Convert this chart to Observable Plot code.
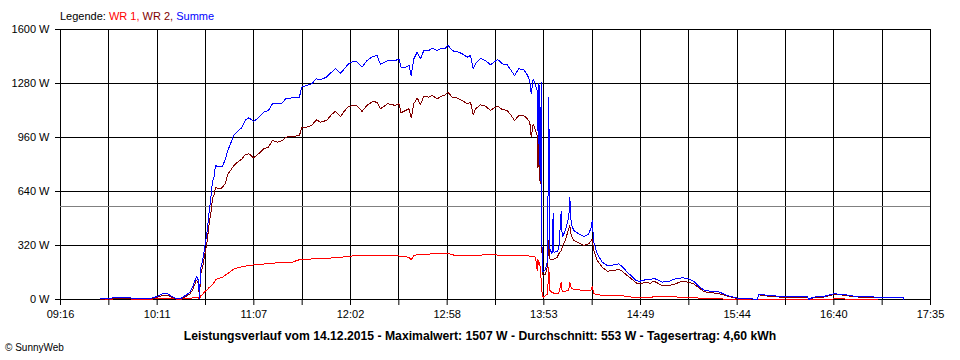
<!DOCTYPE html>
<html>
<head>
<meta charset="utf-8">
<script src="https://cdn.jsdelivr.net/npm/d3@7"></script>
<script src="https://cdn.jsdelivr.net/npm/@observablehq/plot@0.6"></script>
<style>
html, body { margin: 0; padding: 0; background: #fff; }
#wrap { position: relative; width: 960px; height: 360px; overflow: hidden; font-family: "Liberation Sans", Arial, sans-serif; color: #000; }
#chart { position: absolute; left: 0; top: 0; }
#legend { position: absolute; left: 60px; top: 10px; font-size: 11px; line-height: 13px; white-space: nowrap; }
#caption { position: absolute; left: 0; width: 960px; top: 329px; text-align: center; font-weight: bold; font-size: 12.2px; line-height: 14px; white-space: nowrap; }
#copy { position: absolute; left: 5px; top: 342px; font-size: 10px; line-height: 12px; white-space: nowrap; }
</style>
</head>
<body>
<div id="wrap">
  <div id="chart"></div>
  <div id="legend"></div>
  <div id="caption"></div>
  <div id="copy"></div>
</div>
<script>
// ---- Data (times = minutes since midnight, values in W) ----
const startMin = 556;   // 09:16
const endMin = 1055;    // 17:35
const xTickLabels = ["09:16", "10:11", "11:07", "12:02", "12:58", "13:53", "14:49", "15:44", "16:40", "17:35"];
const yTicks = [0, 320, 640, 960, 1280, 1600];
const averageW = 553;
const seriesNames = ["WR 1", "WR 2", "Summe"];
const seriesColors = ["#ff0000", "#800000", "#0000ff"];
const captionText = "Leistungsverlauf vom 14.12.2015 - Maximalwert: 1507 W - Durchschnitt: 553 W - Tagesertrag: 4,60 kWh";
const copyText = "© SunnyWeb";

const times = [
  578.94, 581.81, 586.40, 590.41, 596.15, 598.44, 604.75, 609.34, 612.21, 614.50,
  617.37, 619.67, 621.96, 624.83, 627.70, 629.99, 631.71, 634.00, 635.15, 635.73,
  636.30, 637.45, 638.59, 640.03, 641.17, 642.32, 643.18, 644.04, 644.90, 646.05,
  647.77, 648.92, 650.64, 651.79, 653.51, 655.23, 657.52, 659.81, 662.11, 664.12,
  666.70, 669.57, 672.43, 675.30, 677.60, 680.46, 683.33, 685.05, 689.07, 693.08,
  694.23, 697.10, 699.96, 702.83, 705.13, 708.57, 711.44, 713.73, 716.60, 718.32,
  721.19, 724.05, 726.35, 728.93, 731.80, 734.95, 737.53, 739.54, 743.56, 748.14,
  750.15, 751.30, 753.88, 755.89, 757.15, 758.64, 760.59, 762.48, 764.38, 767.24,
  769.37, 772.06, 773.95, 776.82, 778.14, 780.67, 781.98, 783.53, 786.40, 789.27,
  791.16, 792.71, 794.03, 796.90, 799.76, 802.63, 804.53, 806.82, 809.34, 812.21,
  814.51, 816.40, 818.86, 821.73, 823.68, 825.17, 825.98, 827.12, 828.44, 829.42,
  829.76, 830.16, 830.56, 830.91, 831.31, 831.71, 832.06, 832.29, 832.86, 834.18,
  835.33, 836.07, 836.64, 837.91, 838.59, 839.05, 840.89, 841.81, 843.18, 843.76,
  845.65, 847.54, 848.12, 848.92, 850.41, 853.28, 856.15, 859.01, 860.39, 860.96,
  861.88, 863.83, 866.70, 869.57, 873.35, 876.22, 878.17, 881.04, 882.93, 885.80,
  887.69, 891.53, 894.40, 896.30, 901.11, 904.90, 908.74, 912.58, 915.45, 919.24,
  922.11, 924.97, 928.82, 932.66, 935.53, 938.40, 942.18, 946.02, 951.76, 955.60,
  956.52, 963.23, 968.97, 984.28, 985.20, 987.72, 993.80, 999.54, 1005.27, 1011.01,
  1024.43, 1026.32, 1039.51, 1039.80
];

const wr1 = [
  0, 1, 3, 3, 3, 2, 2, 3, 5, 8,
  8, 6, 3, 2, 5, 8, 9, 10, 10, 3,
  20, 30, 45, 57, 70, 80, 90, 100, 117, 123,
  128, 132, 145, 152, 165, 180, 187, 193, 198, 202,
  205, 208, 210, 212, 214, 218, 221, 221, 222, 236,
  237, 238, 240, 241, 241, 243, 246, 249, 251, 252,
  255, 259, 259, 259, 260, 261, 261, 261, 261, 259,
  258, 256, 253, 250, 235, 262, 265, 266, 268, 269,
  271, 271, 271, 271, 271, 268, 261, 261, 261, 261,
  261, 261, 261, 262, 268, 269, 266, 263, 263, 262,
  262, 261, 262, 263, 260, 257, 255, 255, 250, 172,
  240, 221, 200, 220, 152, 120, 60, 34, 14, 24,
  30, 192, 53, 43, 43, 34, 34, 36, 103, 47,
  50, 55, 103, 67, 60, 57, 53, 53, 55, 77,
  34, 30, 24, 23, 22, 21, 21, 20, 15, 10,
  10, 10, 10, 18, 16, 15, 15, 14, 14, 12,
  8, 4, 3, 3, 3, 2, 2, 1, 1, 0,
  2, 2, 2, 2, 1, 2, 2, 3, 3, 2,
  2, null, null, null
];

const wr2 = [
  2, 3, 5, 6, 6, 3, 3, 6, 15, 24,
  24, 15, 5, 3, 18, 30, 55, 117, 95, 2,
  150, 190, 255, 340, 440, 520, 600, 620, 665, 660,
  656, 665, 690, 740, 765, 790, 814, 830, 860, 863,
  840, 863, 893, 903, 942, 932, 942, 962, 966, 972,
  1017, 1021, 1031, 1065, 1051, 1061, 1095, 1116, 1084, 1110,
  1144, 1150, 1146, 1114, 1150, 1173, 1169, 1130, 1160, 1150,
  1160, 1106, 1120, 1130, 1075, 1160, 1195, 1154, 1205, 1199,
  1209, 1189, 1203, 1213, 1230, 1199, 1200, 1193, 1179, 1160,
  1170, 1094, 1130, 1154, 1146, 1120, 1135, 1146, 1126, 1120,
  1090, 1061, 1090, 1090, 1071, 1051, 962, 1041, 1000, 972,
  780, 1020, 700, 1000, 686, 900, 400, 154, 142, 150,
  200, 350, 241, 235, 235, 241, 250, 271, 290, 310,
  355, 420, 439, 380, 350, 335, 320, 330, 350, 360,
  290, 231, 192, 168, 172, 178, 168, 142, 128, 100,
  93, 100, 97, 109, 83, 83, 93, 109, 103, 93,
  69, 47, 40, 37, 30, 20, 10, 3, 3, 1,
  28, 18, 14, 14, 0, 10, 14, 30, 26, 16,
  10, null, null, null
];

const summe = [
  3, 4, 10, 10, 10, 5, 5, 10, 22, 34,
  34, 20, 8, 5, 25, 40, 73, 136, 113, 5,
  180, 230, 300, 400, 510, 610, 700, 725, 794, 788,
  788, 790, 834, 880, 922, 972, 995, 1017, 1065, 1077,
  1055, 1077, 1110, 1120, 1160, 1160, 1165, 1189, 1195, 1199,
  1258, 1268, 1278, 1308, 1302, 1318, 1347, 1367, 1341, 1361,
  1397, 1412, 1406, 1377, 1416, 1440, 1446, 1393, 1416, 1416,
  1426, 1377, 1377, 1387, 1327, 1426, 1466, 1426, 1476, 1476,
  1489, 1476, 1485, 1489, 1507, 1476, 1470, 1470, 1456, 1436,
  1446, 1367, 1397, 1430, 1416, 1391, 1406, 1422, 1397, 1391,
  1357, 1327, 1367, 1363, 1332, 1298, 1219, 1308, 1268, 1238,
  1000, 1280, 800, 1270, 700, 1290, 460, 172, 162, 180,
  230, 1199, 300, 272, 510, 280, 285, 300, 527, 369,
  410, 488, 606, 449, 409, 389, 373, 389, 428, 468,
  340, 271, 221, 201, 205, 211, 196, 162, 145, 115,
  107, 117, 117, 126, 103, 107, 123, 128, 126, 107,
  77, 57, 49, 49, 37, 24, 14, 4, 4, 1,
  30, 24, 18, 18, 1, 14, 18, 34, 30, 20,
  14, 10, 10, 0
];

// ---- Build rows ----
const rows = times.map((t, i) => ({ t, wr1: wr1[i], wr2: wr2[i], summe: summe[i] }));
const nIntervals = (xTickLabels.length - 1) * 2;
const step = (endMin - startMin) / nIntervals;
const gridTimes = d3.range(nIntervals + 1).map(i => startMin + i * step);
const fmtX = d => {
  const i = Math.round((d - startMin) / step);
  return i % 2 === 0 ? xTickLabels[i / 2] : "";
};

const lineOpts = { x: "t", strokeWidth: 1, strokeLinejoin: "miter", shapeRendering: "crispEdges" };

const chart = Plot.plot({
  width: 960,
  height: 360,
  marginLeft: 60,
  marginRight: 30,
  marginTop: 29,
  marginBottom: 61,
  style: { fontFamily: "'Liberation Sans', Arial, sans-serif", fontSize: "11px", color: "#000", background: "#fff", overflow: "visible" },
  x: { domain: [startMin, endMin] },
  y: { domain: [0, 1600] },
  marks: [
    Plot.gridX(gridTimes, { stroke: "#000", strokeOpacity: 1, strokeWidth: 1, shapeRendering: "crispEdges" }),
    Plot.gridY(yTicks, { stroke: "#000", strokeOpacity: 1, strokeWidth: 1, shapeRendering: "crispEdges" }),
    Plot.ruleY([averageW], { stroke: "#808080", strokeWidth: 1, shapeRendering: "crispEdges" }),
    Plot.line(rows, { ...lineOpts, y: "wr1", stroke: seriesColors[0] }),
    Plot.line(rows, { ...lineOpts, y: "wr2", stroke: seriesColors[1] }),
    Plot.line(rows, { ...lineOpts, y: "summe", stroke: seriesColors[2] }),
    Plot.axisX(gridTimes, { tickSize: 6, tickPadding: 5, tickFormat: fmtX, stroke: "#000", fill: "#000", label: null }),
    Plot.axisY(yTicks, { tickSize: 5, tickPadding: 6, tickFormat: d => d + " W", stroke: "#000", fill: "#000", label: null })
  ]
});
document.getElementById("chart").appendChild(chart);

// ---- Legend & texts ----
const legend = document.getElementById("legend");
legend.appendChild(document.createTextNode("Legende: "));
seriesNames.forEach((name, i) => {
  const s = document.createElement("span");
  s.style.color = seriesColors[i];
  s.textContent = name + (i < seriesNames.length - 1 ? ", " : "");
  legend.appendChild(s);
});
document.getElementById("caption").textContent = captionText;
document.getElementById("copy").textContent = copyText;
</script>
</body>
</html>
